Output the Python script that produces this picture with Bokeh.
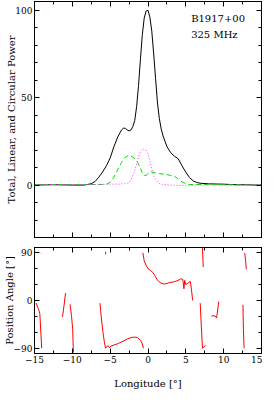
from bokeh.plotting import figure
from bokeh.layouts import column
from bokeh.models import LinearAxis, FixedTicker, Range1d, Label
from bokeh.embed import file_html
from bokeh.resources import INLINE

FONT = "DejaVu Serif"

# ---------------- data ----------------
lon_total = [-15, -12.5, -10, -8.5, -8, -7.5, -7, -6.5, -6, -5.5, -5, -4.5, -4, -3.5, -3.25, -3,
             -2.75, -2.5, -2.25, -2, -1.75, -1.5, -1.25, -1, -0.75, -0.5, -0.25, 0, 0.25, 0.5,
             0.75, 1, 1.25, 1.5, 1.75, 2, 2.5, 3, 3.5, 4, 4.5, 5, 5.5, 6, 6.5, 7, 8, 9, 10, 11,
             12, 13, 14, 15]
total = [0, 0.2, 0, 0, 0.3, 0.8, 2, 4.5, 7.5, 11, 15.5, 22, 27.5, 31.5, 32.5, 32.5,
         31.5, 31, 31.5, 33.5, 37, 45, 57, 72, 86, 95.5, 99.5, 100, 96, 88,
         75, 61, 47, 38, 32, 28, 22, 18.5, 16.5, 15, 11, 7.3, 4.2, 2.3, 1.4, 1, 0.7, 0.6, 0.5, 0.3,
         0.2, 0.2, 0, 0]

lon_linear = [-15, -10, -6, -5.5, -5, -4.5, -4, -3.5, -3, -2.5, -2, -1.5, -1.25, -1, -0.75, -0.5,
              -0.25, 0, 0.25, 0.5, 1, 1.5, 2, 2.5, 3, 3.5, 4, 4.5, 5, 5.5, 6, 8, 10, 15]
linear = [0.3, 0.3, 0.3, 0.5, 1.5, 4.5, 9, 13, 16, 17, 16, 14, 12, 9.5, 7, 5.5,
          5.5, 6.5, 7.5, 7.5, 7, 6.5, 6.3, 6, 5.5, 5, 3.5, 1.8, 0.8, 0.3, 0.3, 0.3, 0.2, 0]

lon_circular = [-15, -10, -7, -5, -4, -3, -2.75, -2.5, -2.25, -2, -1.75, -1.5, -1.25, -1, -0.75,
                -0.5, -0.25, 0, 0.25, 0.5, 0.75, 1, 1.25, 1.5, 2, 3, 4, 5, 7, 10, 15]
circular = [0.3, 0.3, 0.3, 0.5, 0.5, 0.8, 1.0, 1.5, 3, 5.5, 8.5, 12, 16, 19.5, 20.5,
            20.5, 20, 18, 14, 9, 5.5, 3, 1.8, 1, 0.2, 0, -0.2, -0.2, 0, 0, 0]

pa_lon = [
    [-14.8, -14.5, -14.3, -14.2, -14.05],
    [-14.1, -14.05],
    [-11.3, -11.1, -10.9],
    [-10.3, -10.1, -9.95, -9.9, -9.85],
    [-5.6, -5.6],
    [-6.35, -6.15, -5.95, -5.75, -5.6, -5.3, -5.1, -4.9, -4.5, -3.9, -3.3, -2.65, -2.2, -1.8,
     -1.4, -1.0, -0.8, -0.6],
    [-0.68, -0.5, -0.2, 0.0, 0.3, 0.64, 1.0, 1.26, 1.7, 2.1, 2.5, 2.9, 3.5, 4.0, 4.35, 4.6,
     4.75, 4.85, 5.0, 5.3, 5.6, 5.75, 5.9],
    [6.9, 7.05, 7.2, 7.6],
    [7.2, 7.25, 7.3],
    [8.37, 8.86, 9.07, 9.2, 9.36],
    [12.55, 12.6, 12.7],
    [12.78, 12.9, 12.99],
]
pa_deg = [
    [-5, -15, -24, -50, -90],
    [89, 90],
    [-31, -10, 14],
    [-7, -30, -55, -80, -98],
    [87, 92],
    [-5, -35, -60, -80, -90, -85, -89, -86, -84, -81, -77, -72, -70, -69,
     -70, -75, -80, -90],
    [90, 75, 65, 60, 57, 53, 45, 38, 33, 31, 32, 34, 35.5, 38, 41, 40,
     22, 38, 30, 33, 36, 20, 0],
    [-5, -50, -90, -85],
    [100, 80, 63],
    [-29, -29, -33, -18, -2],
    [-8, -50, -90],
    [90, 75, 59],
]

x_ticks = [-15, -10, -5, 0, 5, 10, 15]
x_tick_labels = ["\u221215", "\u221210", "\u22125", "0", "5", "10", "15"]
x_minor = [-15, -12.5, -10, -7.5, -5, -2.5, 0, 2.5, 5, 7.5, 10, 12.5, 15]
power_ticks = [0, 50, 100]
power_tick_labels = ["0", "50", "100"]
power_minor = [-30, -20, -10, 0, 10, 20, 30, 40, 50, 60, 70, 80, 90, 100]
pa_ticks = [-90, 0, 90]
pa_tick_labels = ["\u221290", "0", "90"]
pa_minor = [-90, -60, -30, 0, 30, 60, 90]

pulsar_name = "B1917+00"
frequency = "325 MHz"


def make_axis(ticks, minor, labels=None, title=None, title_standoff=1):
    ax = LinearAxis(ticker=FixedTicker(ticks=ticks, minor_ticks=minor))
    ax.axis_line_color = "black"
    ax.major_tick_line_color = "black"
    ax.minor_tick_line_color = "black"
    ax.major_tick_in = 5
    ax.major_tick_out = 0
    ax.minor_tick_in = 3
    ax.minor_tick_out = 0
    if labels is None:
        ax.major_label_text_font_size = "0px"
        ax.major_label_text_color = None
        ax.major_label_standoff = 0
    else:
        ax.major_label_overrides = dict(zip(ticks, labels))
        ax.major_label_text_font = FONT
        ax.major_label_text_font_size = "9px"
        ax.major_label_text_color = "black"
        ax.major_label_standoff = 2
    if title is not None:
        ax.axis_label = title
        ax.axis_label_text_font = FONT
        ax.axis_label_text_font_size = "10px"
        ax.axis_label_text_font_style = "normal"
        ax.axis_label_text_color = "black"
        ax.axis_label_standoff = title_standoff
    return ax


def base_fig(height, yr, top, bottom):
    p = figure(width=262, height=height, x_range=Range1d(-15, 15), y_range=Range1d(*yr),
               x_axis_type=None, y_axis_type=None, output_backend="svg",
               toolbar_location=None, min_border_left=29, min_border_right=1,
               min_border_top=top, min_border_bottom=bottom)
    p.outline_line_color = "black"
    p.background_fill_color = "white"
    p.border_fill_color = "white"
    return p


# ---------------- top panel ----------------
p1 = base_fig(242, (-30, 105), 1, 5)
p1.add_layout(make_axis(power_ticks, power_minor, power_tick_labels,
                        "Total, Linear, and Circular Power", -5), "left")
p1.add_layout(make_axis(power_ticks, power_minor), "right")
p1.add_layout(make_axis(x_ticks, x_minor), "below")
p1.add_layout(make_axis(x_ticks, x_minor), "above")

p1.line(lon_total, total, line_color="black", line_width=1)
p1.line(lon_linear, linear, line_color="#00dd00", line_width=1, line_dash="5 3")
p1.line(lon_circular, circular, line_color="#ff33ff", line_width=1, line_dash="1 2")

p1.add_layout(Label(x=5.7, y=95.5, text=pulsar_name, text_baseline="middle",
                    text_font=FONT, text_font_size="10px", text_color="black"))
p1.add_layout(Label(x=5.7, y=86, text=frequency, text_baseline="middle",
                    text_font=FONT, text_font_size="10px", text_color="black"))

# ---------------- bottom panel ----------------
p2 = base_fig(149, (-100, 100), 5, 37)
p2.add_layout(make_axis(pa_ticks, pa_minor, pa_tick_labels, "Position Angle [\u00b0]", -4), "left")
p2.add_layout(make_axis(pa_ticks, pa_minor), "right")
p2.add_layout(make_axis(x_ticks, x_minor, x_tick_labels, "Longitude [\u00b0]", 12), "below")
p2.add_layout(make_axis(x_ticks, x_minor), "above")

p2.multi_line(xs=pa_lon, ys=pa_deg, line_color="red", line_width=1)

layout = column(p1, p2, spacing=0)

open("out.html", "w").write(file_html(layout, INLINE))
